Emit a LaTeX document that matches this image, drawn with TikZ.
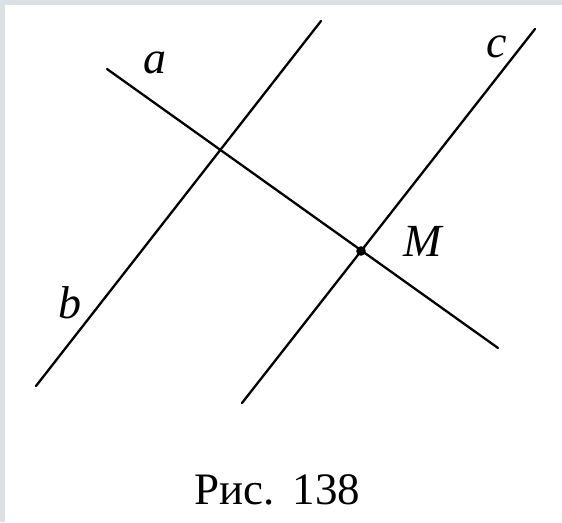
\documentclass[tikz,border=0pt]{standalone}
\usepackage{fontspec}
\setmainfont{Liberation Serif}
\definecolor{framegray}{HTML}{DCE0E5}
\begin{document}
\begin{tikzpicture}[x=1pt,y=-1pt,
  geoline/.style={line width=2.3pt,line cap=round},
  lbl/.style={font=\fontsize{46}{50}\selectfont\itshape,inner sep=0pt},
  captext/.style={font=\fontsize{45}{48}\selectfont,inner sep=0pt}]
\useasboundingbox (0,0) rectangle (562,522);
\fill[white] (0,0) rectangle (562,522);
\fill[framegray] (0,0) rectangle (562,5);
\fill[framegray] (0,0) rectangle (5,522);
\coordinate (A1) at (107,69);
\coordinate (A2) at (498,348);
\coordinate (B1) at (36,386);
\coordinate (B2) at (321,21);
\coordinate (C1) at (242,403);
\coordinate (C2) at (535,29);
\coordinate (M) at (361,251);
\draw[geoline] (A1) -- (A2);
\draw[geoline] (B1) -- (B2);
\draw[geoline] (C1) -- (C2);
\fill (M) circle (4.8);
\node[lbl] (la) at (155,63) {a};
\node[lbl] (lb) at (70,303) {b};
\node[lbl] (lc) at (497,47) {c};
\node[lbl] (lM) at (423,241) {M};
\node[captext] (caption) at (277.5,490) {Рис.\hspace{0.4em}138};
\end{tikzpicture}
\end{document}
